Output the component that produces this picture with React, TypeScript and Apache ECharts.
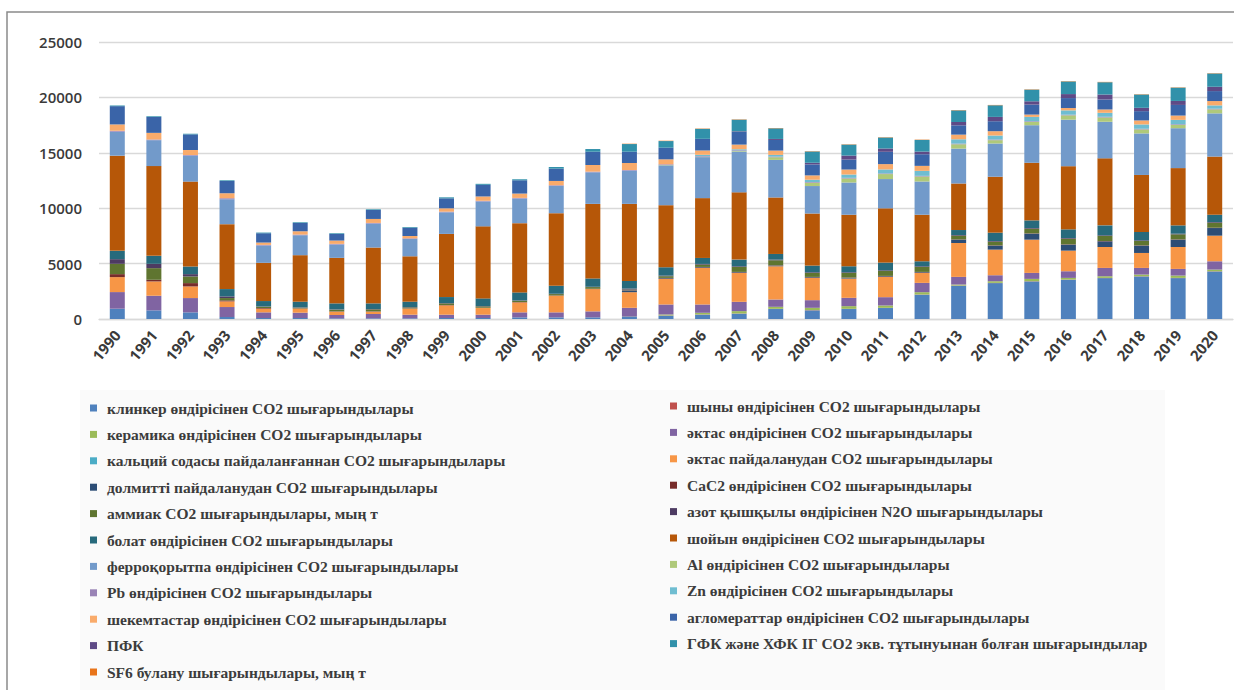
import React, { useEffect, useRef } from "react";
import * as echarts from "echarts";

const years = [
  "1990","1991","1992","1993","1994","1995","1996","1997","1998","1999","2000",
  "2001","2002","2003","2004","2005","2006","2007","2008","2009","2010",
  "2011","2012","2013","2014","2015","2016","2017","2018","2019","2020",
];

const yTicks = [0, 5000, 10000, 15000, 20000, 25000];

// series values (thousand t CO2 eq.), stacked bottom to top in this order
const klinker = [930,780,600,180,90,90,60,60,60,90,90,150,150,150,240,300,390,480,900,780,900,990,2190,3000,3240,3390,3540,3690,3840,3690,4290];
const shyny = [0,0,0,0,0,0,0,0,0,0,0,0,0,0,20,20,20,20,20,20,20,20,20,20,20,20,20,20,20,20,20];
const keramika = [0,0,0,0,0,0,0,0,0,0,0,0,0,0,0,90,150,210,180,210,240,210,210,90,150,210,150,150,150,210,150];
const aktasOndiris = [1500,1320,1290,900,510,480,300,390,330,300,300,450,450,540,750,900,750,840,660,690,750,750,840,690,540,540,600,750,600,600,750];
const kalciySoda = [0,0,0,0,0,0,0,0,0,0,0,0,0,0,0,0,0,0,0,0,0,0,0,0,0,0,0,0,0,0,0];
const aktasPaidalanu = [1350,1290,1050,510,330,360,300,210,540,840,600,900,1500,2010,1410,2310,3300,2610,3000,2010,1740,1830,900,3060,2310,3000,1860,1890,1350,1980,2310];
const dolomit = [0,0,0,0,0,0,0,0,0,0,0,0,0,0,150,60,60,60,60,60,60,60,60,300,360,540,540,510,660,660,690];
const cac2 = [270,150,300,90,60,30,30,30,30,30,30,30,30,30,30,30,30,30,30,30,30,30,30,30,30,30,30,30,30,30,30];
const ammiak = [930,1050,600,210,120,60,150,180,90,150,120,120,120,150,60,150,210,450,450,360,420,450,450,330,330,420,510,450,390,450,450];
const azot = [420,390,210,150,30,30,30,30,30,30,30,30,30,30,90,60,60,60,60,60,60,60,60,60,60,60,60,60,60,60,60];
const bolat = [750,720,690,660,480,510,540,510,480,540,690,720,720,750,690,750,540,600,510,600,540,690,450,450,750,690,780,900,750,750,660];
const shoiyn = [8590,8100,7660,5860,3450,4200,4110,5040,4100,5700,6500,6250,6550,6730,6950,5600,5400,6070,5100,4700,4650,4900,4200,4200,5050,5200,5700,6050,5150,5170,5250];
const ferro = [2160,2340,2340,2250,1560,1800,1200,2160,1560,1950,2250,2220,2460,2850,3000,3600,3700,3680,3390,2480,2910,2640,3000,3150,3000,3390,4200,3300,3750,3600,3900];
const al = [0,0,0,0,0,0,0,0,0,0,0,0,0,0,0,30,30,60,240,300,360,450,450,390,300,300,390,390,360,300,360];
const pb = [90,60,60,90,60,60,60,60,60,60,60,60,60,60,60,60,60,60,60,60,60,60,60,60,60,60,60,60,60,60,60];
const zn = [0,0,0,0,0,0,0,0,0,0,0,0,0,0,0,0,120,90,150,210,300,360,450,390,360,390,390,360,390,390,300];
const shekemtas = [570,600,450,450,210,300,300,360,210,300,390,390,390,600,630,450,390,420,390,390,450,480,450,420,390,210,210,300,360,390,390];
const aglomerat = [1650,1440,1410,1110,840,750,600,810,750,900,1050,1200,1110,1200,1020,1050,1050,1140,960,990,900,1110,1050,840,900,900,900,900,840,960,900];
const pfk = [0,0,0,0,0,0,0,0,0,0,0,0,0,0,0,0,0,60,90,150,360,300,240,300,390,300,360,450,300,360,390];
const gfk = [60,60,60,60,60,60,60,60,60,90,90,90,150,240,690,600,900,1050,960,1020,990,990,1050,1050,1050,1050,1140,1110,1200,1200,1200];
const sf6 = [0,0,0,0,0,0,0,0,0,0,0,0,0,0,30,30,30,30,30,30,30,30,30,30,30,30,30,30,30,30,30];

const seriesNames = [
  "клинкер өндірісінен CO2 шығарындылары",
  "шыны өндірісінен CO2 шығарындылары",
  "керамика өндірісінен CO2 шығарындылары",
  "әктас өндірісінен CO2 шығарындылары",
  "кальций содасы пайдаланғаннан CO2 шығарындылары",
  "әктас пайдаланудан CO2 шығарындылары",
  "долмитті пайдаланудан CO2 шығарындылары",
  "CaC2 өндірісінен CO2 шығарындылары",
  "аммиак CO2 шығарындылары, мың т",
  "азот қышқылы өндірісінен N2O шығарындылары",
  "болат өндірісінен CO2 шығарындылары",
  "шойын өндірісінен CO2 шығарындылары",
  "ферроқорытпа өндірісінен CO2 шығарындылары",
  "Al өндірісінен CO2 шығарындылары",
  "Pb өндірісінен CO2 шығарындылары",
  "Zn өндірісінен CO2 шығарындылары",
  "шекемтастар өндірісінен CO2 шығарындылары",
  "агломераттар өндірісінен CO2 шығарындылары",
  "ПФК",
  "ГФК және ХФК ІГ CO2 экв. тұтынуынан болған шығарындылар",
  "SF6 булану шығарындылары, мың т",
];

const seriesValues = [
  klinker, shyny, keramika, aktasOndiris, kalciySoda, aktasPaidalanu, dolomit, cac2,
  ammiak, azot, bolat, shoiyn, ferro, al, pb, zn, shekemtas, aglomerat, pfk, gfk, sf6,
];

const seriesColors = [
  "#4F81BD", "#C0504D", "#9BBB59", "#8064A2", "#4BACC6", "#F79646", "#2C4D75",
  "#772C2A", "#5F7530", "#4D3B62", "#276A7C", "#B65708", "#729ACA", "#AFC97A",
  "#9983B5", "#6FBDD1", "#F9AB6B", "#3A64A8", "#5E4A86", "#3191AA", "#E8741A",
];

export default function App() {
  const ref = useRef<HTMLDivElement>(null);

  useEffect(() => {
    if (!ref.current) return;
    const chart = echarts.init(ref.current, null, { renderer: "svg" });

    const leftNames = seriesNames.filter((_, i) => i % 2 === 0);
    const rightNames = seriesNames.filter((_, i) => i % 2 === 1);

    const legendText = {
      fontFamily: "'Liberation Serif', 'DejaVu Serif', serif",
      fontSize: 15.5,
      fontWeight: "bold" as const,
      color: "#3c3c3c",
      lineHeight: 16,
      padding: [0, 0, 0, 5],
    };

    chart.setOption({
      animation: false,
      backgroundColor: "#ffffff",
      grid: { left: 99, right: 1, top: 42, bottom: 371, containLabel: false },
      xAxis: {
        type: "category",
        data: years,
        axisLine: { show: true, lineStyle: { color: "#d9d9d9", width: 1.3 } },
        axisTick: { show: false },
        axisLabel: {
          rotate: 50,
          margin: 13,
          interval: 0,
          fontFamily: "'Open Sans', 'Liberation Sans', sans-serif",
          fontSize: 15,
          fontWeight: "bold",
          color: "#3a3a3a",
        },
      },
      yAxis: {
        type: "value",
        min: yTicks[0],
        max: yTicks[yTicks.length - 1],
        interval: yTicks[1] - yTicks[0],
        axisLine: { show: false },
        axisTick: { show: false },
        splitLine: { lineStyle: { color: "#d9d9d9", width: 1.3 } },
        axisLabel: {
          margin: 17,
          formatter: (v: number) => String(v),
          fontFamily: "'Open Sans', 'Liberation Sans', sans-serif",
          fontSize: 15,
          fontWeight: 600,
          color: "#3a3a3a",
        },
      },
      legend: [
        {
          orient: "vertical",
          left: 85,
          top: 395,
          itemWidth: 7,
          itemHeight: 7,
          itemGap: 10.4,
          icon: "rect",
          data: leftNames,
          textStyle: legendText,
        },
        {
          orient: "vertical",
          left: 665,
          top: 393,
          itemWidth: 7,
          itemHeight: 7,
          itemGap: 10.4,
          icon: "rect",
          data: rightNames,
          textStyle: legendText,
        },
      ],
      graphic: [
        {
          type: "rect",
          z: -10,
          silent: true,
          shape: { x: 80, y: 390, width: 1085, height: 300 },
          style: { fill: "#fafafa" },
        },
        {
          type: "rect",
          z: 100,
          silent: true,
          shape: { x: 7, y: 12, width: 1240, height: 700 },
          style: { fill: "none", stroke: "#8a8a8a", lineWidth: 1.5 },
        },
      ],
      series: seriesNames.map((name, i) => ({
        name,
        type: "bar",
        stack: "total",
        barWidth: 15,
        data: seriesValues[i],
        itemStyle: { color: seriesColors[i] },
      })),
    });

    return () => chart.dispose();
  }, []);

  return (
    <div
      ref={ref}
      style={{ position: "fixed", left: 0, top: 0, width: 1234, height: 690 }}
    />
  );
}
